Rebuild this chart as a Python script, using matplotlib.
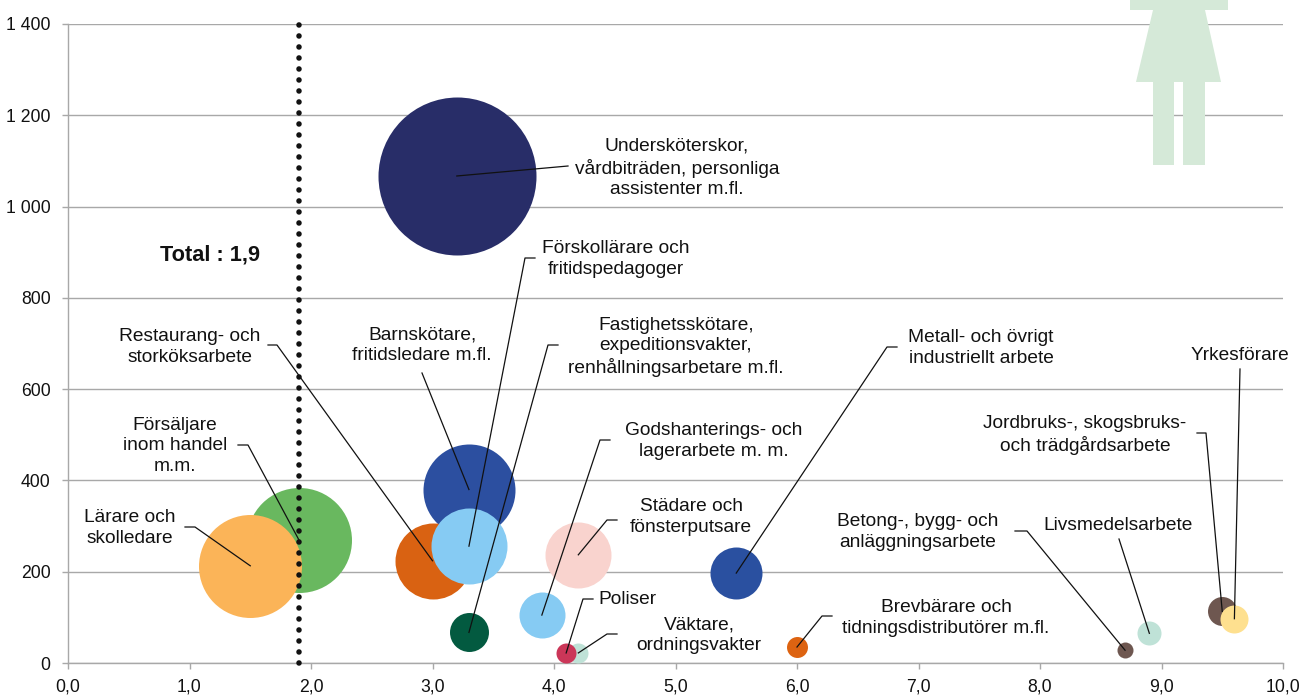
import matplotlib
matplotlib.use("Agg")
import matplotlib.pyplot as plt
from matplotlib.lines import Line2D
from matplotlib.patches import Polygon
from matplotlib.transforms import Affine2D

WIDTH = 1302
HEIGHT = 695

# yrkesgrupper: kvinnors sjukfall, x = per 100, y = antal
x_vals = [3.2, 3.3, 3.3, 3.0, 1.9, 1.5, 4.2, 5.5, 3.9, 3.3, 4.2, 4.1, 6.0, 8.7, 8.9, 9.5, 9.6]
y_vals = [1067, 380, 256, 224, 270, 213, 237, 197, 105, 67, 22, 22, 35, 28, 65, 113, 97]
# bubbelyta
areas = [6241, 2116, 1444, 1444, 2756, 2652, 1089, 676, 529, 380, 100, 100, 110, 64, 144, 210, 196]
colors = ["#282D68", "#2C4FA0", "#86CBF3", "#D96212", "#69B85F", "#FBB458",
          "#F9D3CE", "#2A50A0", "#86CBF3", "#035A40", "#BFE2D7", "#CB3658",
          "#DD6311", "#6E5750", "#BFE2D7", "#6E5750", "#FEE08F"]
total = 1.9

x_ticks = [0, 1, 2, 3, 4, 5, 6, 7, 8, 9, 10]
x_labels = ["0,0", "1,0", "2,0", "3,0", "4,0", "5,0", "6,0", "7,0", "8,0", "9,0", "10,0"]
y_ticks = [0, 200, 400, 600, 800, 1000, 1200, 1400]
y_labels = ["0", "200", "400", "600", "800", "1 000", "1 200", "1 400"]

labels = ["Undersköterskor,\nvårdbiträden, personliga\nassistenter m.fl.",
          "Barnskötare,\nfritidsledare m.fl.",
          "Förskollärare och\nfritidspedagoger",
          "Restaurang- och\nstorköksarbete",
          "Försäljare\ninom handel\nm.m.",
          "Lärare och\nskolledare",
          "Städare och\nfönsterputsare",
          "Metall- och övrigt\nindustriellt arbete",
          "Godshanterings- och\nlagerarbete m. m.",
          "Fastighetsskötare,\nexpeditionsvakter,\nrenhållningsarbetare m.fl.",
          "Väktare,\nordningsvakter",
          "Poliser",
          "Brevbärare och\ntidningsdistributörer m.fl.",
          "Betong-, bygg- och\nanläggningsarbete",
          "Livsmedelsarbete",
          "Jordbruks-, skogsbruks-\noch trädgårdsarbete",
          "Yrkesförare"]
# textens mitt i pixlar
label_pos = [(677, 168), (422, 345), (616, 259), (190, 347), (175, 446), (130, 528),
             (691, 517), (981, 348), (714, 441), (676, 347), (699, 635), (627, 600),
             (946, 618), (918, 532), (1118, 526), (1085, 435), (1240, 356)]
# linjernas brytpunkter i pixlar
leader_pts = [[(568, 166)],
              [(422, 373)],
              [(525, 258), (535, 258)],
              [(277, 345), (268, 345)],
              [(248, 445), (238, 445)],
              [(195, 527), (185, 527)],
              [(607, 520), (617, 520)],
              [(887, 347), (897, 347)],
              [(600, 440), (610, 440)],
              [(548, 345), (558, 345)],
              [(607, 634), (617, 634)],
              [(583, 599), (593, 599)],
              [(822, 616), (832, 616)],
              [(1027, 531), (1015, 531)],
              [(1119, 539)],
              [(1206, 433), (1197, 433)],
              [(1240, 369)]]

icon_body = [(1130, -2), (1228, -2), (1228, 10), (1205, 10), (1221, 82), (1205, 82),
             (1205, 165), (1183, 165), (1183, 82), (1174, 82), (1174, 165), (1153, 165),
             (1153, 82), (1136, 82), (1153, 10), (1130, 10)]

plt.rcParams["font.family"] = ["Liberation Sans", "DejaVu Sans"]
FS = 13.8
TICK_FS = 12.7
GREY = "#A8A8A8"

fig = plt.figure(figsize=(WIDTH / 100, HEIGHT / 100), dpi=100)
ax = fig.add_axes([68 / WIDTH, 1 - 663 / HEIGHT, (1283 - 68) / WIDTH, (663 - 24) / HEIGHT])
ax.set_xlim(0, 10)
ax.set_ylim(0, 1400)
ax.set_xticks(x_ticks, x_labels, fontsize=TICK_FS, color="#111111")
ax.set_yticks(y_ticks, y_labels, fontsize=TICK_FS, color="#111111")
ax.tick_params(axis="y", length=4.3, width=1, color=GREY, pad=8.3)
ax.tick_params(axis="x", length=4.3, width=1, color=GREY, pad=7)
for name in ["top", "right"]:
    ax.spines[name].set_visible(False)
for name in ["left", "bottom"]:
    ax.spines[name].set_color(GREY)
    ax.spines[name].set_linewidth(1)
ax.grid(axis="y", color=GREY, linewidth=1, zorder=0)
ax.set_axisbelow(True)

px = Affine2D().scale(1 / WIDTH, -1 / HEIGHT).translate(0, 1) + fig.transFigure

fig.add_artist(Polygon(icon_body, closed=True, transform=px, facecolor="#D5E9D8",
                       edgecolor="none", zorder=2))

# bubblorna, ritas så att Lärare hamnar över Försäljare osv.
order = [0, 1, 3, 2, 4, 5, 6, 7, 8, 9, 10, 11, 12, 13, 14, 15, 16]
for i in order:
    ax.scatter(x_vals[i], y_vals[i], s=areas[i] * 2.0736, color=colors[i],
               linewidths=0, zorder=3, clip_on=False)

ax.plot([total, total], [0, 1400], color="#111111", linewidth=4,
        linestyle=(0, (0.01, 1.97)), dash_capstyle="round", zorder=4, clip_on=False)

fig.canvas.draw()
to_disp = px.transform
for i in range(len(labels)):
    start = ax.transData.transform((x_vals[i], y_vals[i]))
    pts = [tuple(start)] + [tuple(to_disp(p)) for p in leader_pts[i]]
    xs = [p[0] / WIDTH for p in pts]
    ys = [p[1] / HEIGHT for p in pts]
    fig.add_artist(Line2D(xs, ys, color="#111111", linewidth=0.9, zorder=5,
                          transform=fig.transFigure))
    fig.text(label_pos[i][0], label_pos[i][1], labels[i], transform=px, ha="center", va="center",
             fontsize=FS, color="#111111", linespacing=1.28, zorder=6)

fig.text(210, 255, "Total : 1,9", transform=px, ha="center", va="center",
         fontsize=15.7, fontweight="bold", color="#111111")

fig.savefig("out.png", dpi=100)
